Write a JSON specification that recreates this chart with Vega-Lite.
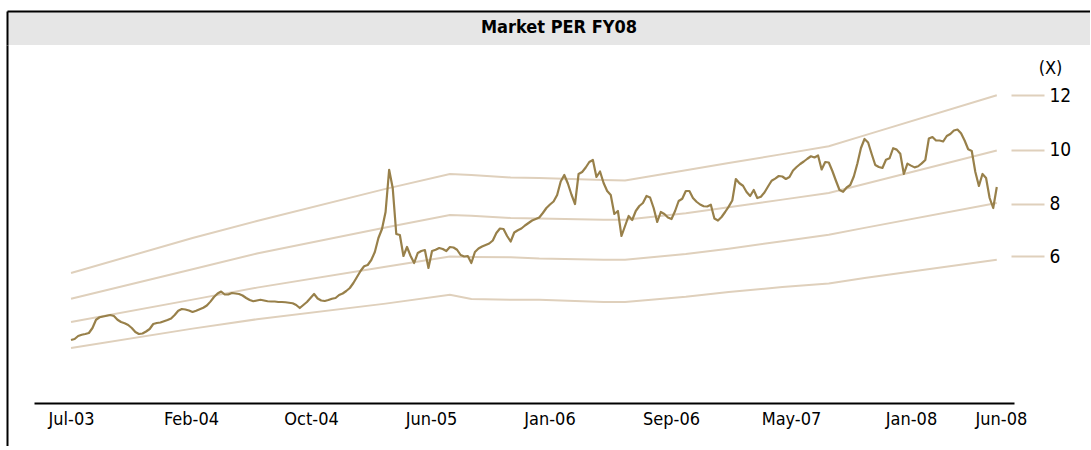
{
"$schema": "https://vega.github.io/schema/vega-lite/v6.json",
"padding": {"left": 7, "top": 11, "right": 0, "bottom": 0},
"background": "white",
"spacing": 0,
"config": {"view": {"stroke": null}, "font": "DejaVu Sans Condensed, Liberation Sans Narrow, Liberation Sans, sans-serif", "axis": {"grid": false}},
"datasets": {
"header": [{"t": "Market PER FY08"}],
"bands": [
{"d":"2003-07-06","b6":596,"b8":804,"b10":990,"b12":1196},
{"d":"2004-02-29","b6":751,"b8":983,"b10":1226,"b12":1476},
{"d":"2004-07-04","b6":826,"b8":1079,"b10":1352,"b12":1612},
{"d":"2005-03-13","b6":951,"b8":1246,"b10":1560,"b12":1869},
{"d":"2005-07-17","b6":1022,"b8":1328,"b10":1660,"b12":1988},
{"d":"2005-08-28","b6":988,"b8":1324,"b10":1654,"b12":1980},
{"d":"2005-11-13","b6":982,"b8":1322,"b10":1636,"b12":1960},
{"d":"2006-01-08","b6":982,"b8":1312,"b10":1632,"b12":1956},
{"d":"2006-05-14","b6":964,"b8":1302,"b10":1622,"b12":1940},
{"d":"2006-06-25","b6":964,"b8":1302,"b10":1622,"b12":1936},
{"d":"2006-10-22","b6":1006,"b8":1348,"b10":1674,"b12":2018},
{"d":"2007-01-14","b6":1044,"b8":1390,"b10":1722,"b12":2076},
{"d":"2007-04-29","b6":1084,"b8":1450,"b10":1783,"b12":2147},
{"d":"2007-07-29","b6":1112,"b8":1502,"b10":1836,"b12":2210},
{"d":"2007-10-07","b6":1156,"b8":1557,"b10":1908,"b12":2297},
{"d":"2008-06-22","b6":1302,"b8":1756,"b10":2176,"b12":2618}
],
"market": [
{"d":"2003-07-06","v":660},{"d":"2003-07-13","v":668},{"d":"2003-07-20","v":692},{"d":"2003-07-27","v":702},
{"d":"2003-08-03","v":708},{"d":"2003-08-10","v":716},{"d":"2003-08-17","v":756},{"d":"2003-08-24","v":822},{"d":"2003-08-31","v":842},
{"d":"2003-09-07","v":848},{"d":"2003-09-14","v":854},{"d":"2003-09-21","v":860},{"d":"2003-09-28","v":852},
{"d":"2003-10-05","v":822},{"d":"2003-10-12","v":804},{"d":"2003-10-19","v":794},{"d":"2003-10-26","v":780},
{"d":"2003-11-02","v":756},{"d":"2003-11-09","v":724},{"d":"2003-11-16","v":708},{"d":"2003-11-23","v":712},{"d":"2003-11-30","v":728},
{"d":"2003-12-07","v":748},{"d":"2003-12-14","v":788},{"d":"2003-12-21","v":796},{"d":"2003-12-28","v":800},
{"d":"2004-01-04","v":810},{"d":"2004-01-11","v":820},{"d":"2004-01-18","v":832},{"d":"2004-01-25","v":860},
{"d":"2004-02-01","v":894},{"d":"2004-02-08","v":908},{"d":"2004-02-15","v":904},{"d":"2004-02-22","v":896},{"d":"2004-02-29","v":884},
{"d":"2004-03-07","v":894},{"d":"2004-03-14","v":906},{"d":"2004-03-21","v":918},{"d":"2004-03-28","v":936},
{"d":"2004-04-04","v":967},{"d":"2004-04-11","v":1004},{"d":"2004-04-18","v":1032},{"d":"2004-04-25","v":1048},
{"d":"2004-05-02","v":1024},{"d":"2004-05-09","v":1024},{"d":"2004-05-16","v":1036},{"d":"2004-05-23","v":1032},{"d":"2004-05-30","v":1028},
{"d":"2004-06-06","v":1016},{"d":"2004-06-13","v":996},{"d":"2004-06-20","v":980},{"d":"2004-06-27","v":970},
{"d":"2004-07-04","v":976},{"d":"2004-07-11","v":982},{"d":"2004-07-18","v":976},{"d":"2004-07-25","v":970},
{"d":"2004-08-01","v":968},{"d":"2004-08-08","v":968},{"d":"2004-08-15","v":964},{"d":"2004-08-22","v":964},{"d":"2004-08-29","v":962},
{"d":"2004-09-05","v":958},{"d":"2004-09-12","v":954},{"d":"2004-09-19","v":940},{"d":"2004-09-26","v":916},
{"d":"2004-10-03","v":940},{"d":"2004-10-10","v":964},{"d":"2004-10-17","v":996},{"d":"2004-10-24","v":1028},{"d":"2004-10-31","v":992},
{"d":"2004-11-07","v":976},{"d":"2004-11-14","v":972},{"d":"2004-11-21","v":980},{"d":"2004-11-28","v":990},
{"d":"2004-12-05","v":996},{"d":"2004-12-12","v":1020},{"d":"2004-12-19","v":1032},{"d":"2004-12-26","v":1052},
{"d":"2005-01-02","v":1076},{"d":"2005-01-09","v":1116},{"d":"2005-01-16","v":1164},{"d":"2005-01-23","v":1212},{"d":"2005-01-30","v":1250},
{"d":"2005-02-06","v":1260},{"d":"2005-02-13","v":1300},{"d":"2005-02-20","v":1364},{"d":"2005-02-27","v":1476},
{"d":"2005-03-06","v":1548},{"d":"2005-03-13","v":1684},{"d":"2005-03-20","v":2022},{"d":"2005-03-27","v":1876},
{"d":"2005-04-03","v":1508},{"d":"2005-04-10","v":1500},{"d":"2005-04-17","v":1332},{"d":"2005-04-24","v":1404},
{"d":"2005-05-01","v":1332},{"d":"2005-05-08","v":1276},{"d":"2005-05-15","v":1356},{"d":"2005-05-22","v":1372},{"d":"2005-05-29","v":1380},
{"d":"2005-06-05","v":1236},{"d":"2005-06-12","v":1372},{"d":"2005-06-19","v":1382},{"d":"2005-06-26","v":1396},
{"d":"2005-07-03","v":1388},{"d":"2005-07-10","v":1372},{"d":"2005-07-17","v":1404},{"d":"2005-07-24","v":1400},{"d":"2005-07-31","v":1382},
{"d":"2005-08-07","v":1340},{"d":"2005-08-14","v":1328},{"d":"2005-08-21","v":1332},{"d":"2005-08-28","v":1276},
{"d":"2005-09-04","v":1364},{"d":"2005-09-11","v":1392},{"d":"2005-09-18","v":1408},{"d":"2005-09-25","v":1420},
{"d":"2005-10-02","v":1432},{"d":"2005-10-09","v":1456},{"d":"2005-10-16","v":1516},{"d":"2005-10-23","v":1552},{"d":"2005-10-30","v":1548},
{"d":"2005-11-06","v":1492},{"d":"2005-11-13","v":1448},{"d":"2005-11-20","v":1520},{"d":"2005-11-27","v":1538},
{"d":"2005-12-04","v":1552},{"d":"2005-12-11","v":1576},{"d":"2005-12-18","v":1596},{"d":"2005-12-25","v":1616},
{"d":"2006-01-01","v":1628},{"d":"2006-01-08","v":1640},{"d":"2006-01-15","v":1676},{"d":"2006-01-22","v":1716},{"d":"2006-01-29","v":1744},
{"d":"2006-02-05","v":1768},{"d":"2006-02-12","v":1820},{"d":"2006-02-19","v":1928},{"d":"2006-02-26","v":1980},
{"d":"2006-03-05","v":1912},{"d":"2006-03-12","v":1824},{"d":"2006-03-19","v":1748},{"d":"2006-03-26","v":1988},
{"d":"2006-04-02","v":2004},{"d":"2006-04-09","v":2040},{"d":"2006-04-16","v":2084},{"d":"2006-04-23","v":2100},{"d":"2006-04-30","v":1964},
{"d":"2006-05-07","v":2008},{"d":"2006-05-14","v":1916},{"d":"2006-05-21","v":1852},{"d":"2006-05-28","v":1820},
{"d":"2006-06-04","v":1668},{"d":"2006-06-11","v":1692},{"d":"2006-06-18","v":1492},{"d":"2006-06-25","v":1572},
{"d":"2006-07-02","v":1652},{"d":"2006-07-09","v":1620},{"d":"2006-07-16","v":1692},{"d":"2006-07-23","v":1732},{"d":"2006-07-30","v":1756},
{"d":"2006-08-06","v":1812},{"d":"2006-08-13","v":1800},{"d":"2006-08-20","v":1716},{"d":"2006-08-27","v":1604},
{"d":"2006-09-03","v":1684},{"d":"2006-09-10","v":1668},{"d":"2006-09-17","v":1640},{"d":"2006-09-24","v":1628},
{"d":"2006-10-01","v":1692},{"d":"2006-10-08","v":1772},{"d":"2006-10-15","v":1790},{"d":"2006-10-22","v":1852},{"d":"2006-10-29","v":1852},
{"d":"2006-11-05","v":1796},{"d":"2006-11-12","v":1766},{"d":"2006-11-19","v":1744},{"d":"2006-11-26","v":1730},
{"d":"2006-12-03","v":1728},{"d":"2006-12-10","v":1742},{"d":"2006-12-17","v":1632},{"d":"2006-12-24","v":1616},{"d":"2006-12-31","v":1644},
{"d":"2007-01-07","v":1684},{"d":"2007-01-14","v":1727},{"d":"2007-01-21","v":1776},{"d":"2007-01-28","v":1948},
{"d":"2007-02-04","v":1914},{"d":"2007-02-11","v":1894},{"d":"2007-02-18","v":1844},{"d":"2007-02-25","v":1812},
{"d":"2007-03-04","v":1860},{"d":"2007-03-11","v":1796},{"d":"2007-03-18","v":1806},{"d":"2007-03-25","v":1840},
{"d":"2007-04-01","v":1888},{"d":"2007-04-08","v":1934},{"d":"2007-04-15","v":1951},{"d":"2007-04-22","v":1972},{"d":"2007-04-29","v":1968},
{"d":"2007-05-06","v":1948},{"d":"2007-05-13","v":1964},{"d":"2007-05-20","v":2016},{"d":"2007-05-27","v":2044},
{"d":"2007-06-03","v":2068},{"d":"2007-06-10","v":2088},{"d":"2007-06-17","v":2110},{"d":"2007-06-24","v":2130},
{"d":"2007-07-01","v":2120},{"d":"2007-07-08","v":2136},{"d":"2007-07-15","v":2024},{"d":"2007-07-22","v":2084},{"d":"2007-07-29","v":2080},
{"d":"2007-08-05","v":2012},{"d":"2007-08-12","v":1934},{"d":"2007-08-19","v":1860},{"d":"2007-08-26","v":1846},
{"d":"2007-09-02","v":1880},{"d":"2007-09-09","v":1900},{"d":"2007-09-16","v":1968},{"d":"2007-09-23","v":2072},{"d":"2007-09-30","v":2196},
{"d":"2007-10-07","v":2268},{"d":"2007-10-14","v":2240},{"d":"2007-10-21","v":2148},{"d":"2007-10-28","v":2060},
{"d":"2007-11-04","v":2044},{"d":"2007-11-11","v":2036},{"d":"2007-11-18","v":2102},{"d":"2007-11-25","v":2114},
{"d":"2007-12-02","v":2194},{"d":"2007-12-09","v":2183},{"d":"2007-12-16","v":2150},{"d":"2007-12-23","v":1988},{"d":"2007-12-30","v":2071},
{"d":"2008-01-06","v":2055},{"d":"2008-01-13","v":2041},{"d":"2008-01-20","v":2050},{"d":"2008-01-27","v":2073},
{"d":"2008-02-03","v":2100},{"d":"2008-02-10","v":2272},{"d":"2008-02-17","v":2284},{"d":"2008-02-24","v":2256},
{"d":"2008-03-02","v":2256},{"d":"2008-03-09","v":2248},{"d":"2008-03-16","v":2292},{"d":"2008-03-23","v":2308},{"d":"2008-03-30","v":2336},
{"d":"2008-04-06","v":2344},{"d":"2008-04-13","v":2314},{"d":"2008-04-20","v":2256},{"d":"2008-04-27","v":2186},
{"d":"2008-05-04","v":2172},{"d":"2008-05-11","v":2004},{"d":"2008-05-18","v":1892},{"d":"2008-05-25","v":1988},
{"d":"2008-06-01","v":1956},{"d":"2008-06-08","v":1796},{"d":"2008-06-15","v":1716},{"d":"2008-06-22","v":1884}
]
},
"vconcat": [
{
"width": 1083, "height": 34,
"view": {"fill": "#e6e6e6", "stroke": null},
"data": {"name": "header"},
"mark": {"type": "text", "fontWeight": "bold", "fontSize": 18, "color": "black", "align": "center", "baseline": "middle"},
"encoding": {
"text": {"field": "t"},
"x": {"datum": 0.5097, "type": "quantitative", "scale": {"domain": [0, 1], "nice": false, "zero": false}, "axis": {"orient": "top", "domain": true, "domainColor": "black", "domainWidth": 2, "ticks": false, "labels": false, "grid": false, "title": null}},
"y": {"datum": 0.5, "type": "quantitative", "scale": {"domain": [0, 1], "nice": false, "zero": false}, "axis": {"orient": "left", "domain": true, "domainColor": "black", "domainWidth": 2, "ticks": false, "labels": false, "grid": false, "title": null}}
}
},
{
"width": 1083, "height": 401,
"resolve": {"axis": {"y": "independent"}},
"layer": [
{
"data": {"name": "bands"},
"transform": [{"fold": ["b6", "b8", "b10", "b12"], "as": ["band", "val"]}],
"mark": {"type": "line", "color": "#dfd0bc", "strokeWidth": 2},
"encoding": {
"x": {"field": "d", "type": "temporal",
"scale": {"type": "utc", "nice": false, "range": [27, 1007], "domain": [{"year": 2003, "month": 4, "date": 24, "hours": 12, "utc": true}, {"year": 2008, "month": 7, "date": 25, "hours": 17, "utc": true}]},
"axis": {"orient": "bottom", "offset": -43,
"labelExpr": "utcFormat(datum.value, '%b-%y')",
"values": [{"year": 2003, "month": 7, "date": 6, "utc": true}, {"year": 2004, "month": 2, "date": 26, "utc": true}, {"year": 2004, "month": 10, "date": 18, "utc": true}, {"year": 2005, "month": 6, "date": 10, "utc": true}, {"year": 2006, "month": 1, "date": 28, "utc": true}, {"year": 2006, "month": 9, "date": 23, "utc": true}, {"year": 2007, "month": 5, "date": 16, "utc": true}, {"year": 2008, "month": 1, "date": 6, "utc": true}, {"year": 2008, "month": 6, "date": 30, "utc": true}],
"domain": true, "domainColor": "black", "domainWidth": 2, "ticks": false, "labelPadding": 7, "labelFontSize": 18, "labelColor": "black", "labelOverlap": false, "labelFlush": false, "grid": false, "title": null}},
"y": {"field": "val", "type": "quantitative", "scale": {"domain": [-188, 3020], "nice": false, "zero": false},
"axis": {"orient": "left", "domain": true, "domainColor": "black", "domainWidth": 2, "ticks": false, "labels": false, "grid": false, "title": null}},
"detail": {"field": "band"}
}
},
{
"data": {"name": "market"},
"mark": {"type": "line", "color": "#98804a", "strokeWidth": 2.2, "strokeJoin": "round"},
"encoding": {
"x": {"field": "d", "type": "temporal",
"scale": {"type": "utc", "nice": false, "range": [27, 1007], "domain": [{"year": 2003, "month": 4, "date": 24, "hours": 12, "utc": true}, {"year": 2008, "month": 7, "date": 25, "hours": 17, "utc": true}]}},
"y": {"field": "v", "type": "quantitative", "scale": {"domain": [-188, 3020], "nice": false, "zero": false},
"axis": {"orient": "right", "offset": -79, "values": [1332, 1750, 2182, 2616],
"labelExpr": "datum.value > 2400 ? '12' : datum.value > 1950 ? '10' : datum.value > 1500 ? '8' : '6'",
"domain": false, "ticks": true, "tickSize": 33, "tickWidth": 2, "tickColor": "#dfd0bc", "labelPadding": 5, "labelFontSize": 19, "labelColor": "black", "labelBaseline": "middle", "labelAlign": "left", "grid": false,
"title": "(X)", "titleAngle": 0, "titleX": 39, "titleY": 23, "titleAlign": "center", "titleBaseline": "middle", "titleFontWeight": "normal", "titleFontSize": 18, "titleColor": "black"}}
}
}
]
}
]
}
